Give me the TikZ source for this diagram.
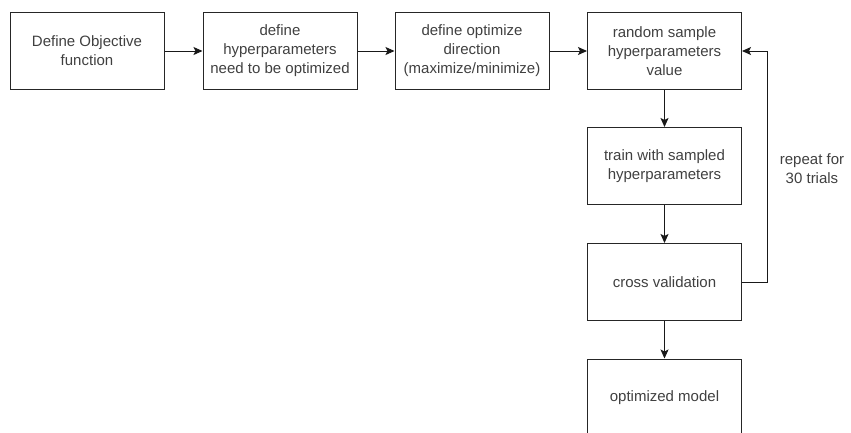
\documentclass[tikz,border=0pt]{standalone}
\usepackage{fontspec}
\setmainfont{Liberation Sans}
\usetikzlibrary{arrows.meta}
\begin{document}
\begin{tikzpicture}[x=1pt,y=-1pt,
  stepbox/.style={draw=black!85, line width=1pt, minimum width=154pt, minimum height=77pt,
    align=center, font=\fontsize{15}{19}\selectfont, text=black!75, inner sep=2pt},
  flow/.style={draw=black!90, line width=1pt, -{Stealth[length=9pt,width=8pt,inset=2pt]}},
  note/.style={align=center, font=\fontsize{15}{19}\selectfont, text=black!75}]
  \useasboundingbox (0,0) rectangle (851,432);
  \clip (0,0) rectangle (851,432);
  % top row
  \node[stepbox] (obj) at (87,51) {Define Objective\\function};
  \node[stepbox] (hyp) at (280,51) {define\\hyperparameters\\need to be optimized};
  \node[stepbox] (dir) at (472,51) {define optimize\\direction\\(maximize/minimize)};
  \node[stepbox] (smp) at (664.5,51) {random sample\\hyperparameters\\value};
  % right column
  \node[stepbox] (trn) at (664.5,166) {train with sampled\\hyperparameters};
  \node[stepbox] (cv)  at (664.5,282) {cross validation};
  \node[stepbox] (opt) at (664.5,397.5) {optimized model};
  % connectors
  \draw[flow] (obj) -- (hyp);
  \draw[flow] (hyp) -- (dir);
  \draw[flow] (dir) -- (smp);
  \draw[flow] (smp) -- (trn);
  \draw[flow] (trn) -- (cv);
  \draw[flow] (cv) -- (opt);
  \coordinate (loop) at (767.5,282);
  \draw[flow] (cv.east) -- (loop) |- (smp.east);
  \node[note] (rep) at (812,169) {repeat for\\30 trials};
\end{tikzpicture}
\end{document}
